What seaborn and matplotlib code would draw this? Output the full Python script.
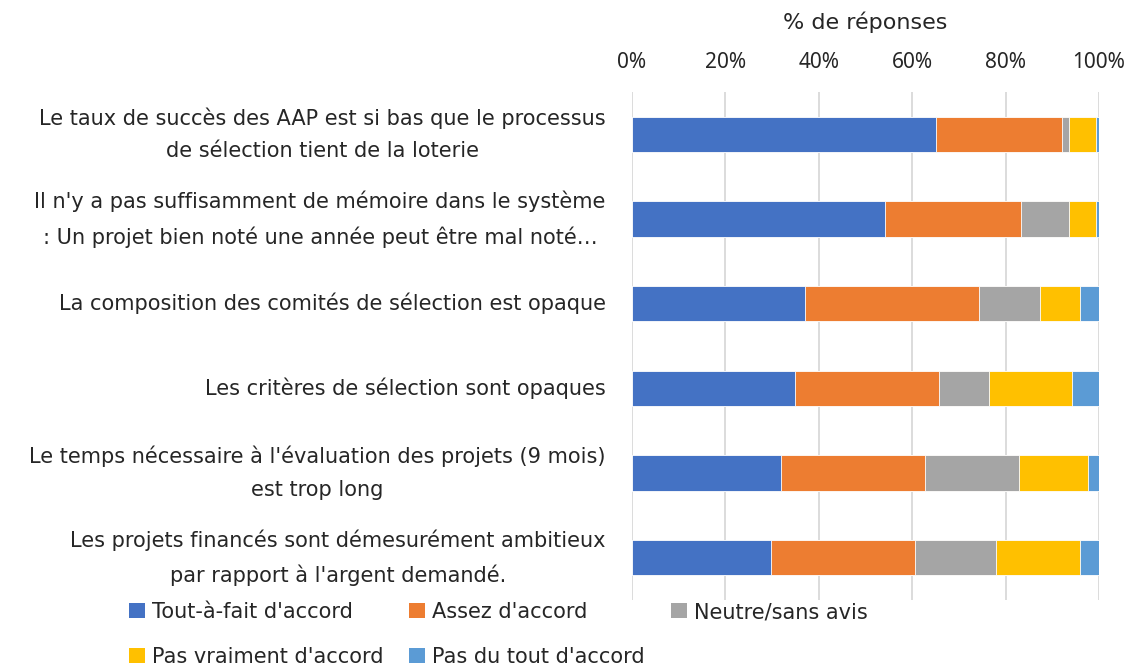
import matplotlib
matplotlib.use("Agg")
import matplotlib.pyplot as plt
from matplotlib.patches import Patch
import seaborn as sns
import pandas as pd
import numpy as np

categories = [
    "Le taux de succès des AAP est si bas que le processus\nde sélection tient de la loterie",
    "Il n'y a pas suffisamment de mémoire dans le système\n: Un projet bien noté une année peut être mal noté…",
    "La composition des comités de sélection est opaque",
    "Les critères de sélection sont opaques",
    "Le temps nécessaire à l'évaluation des projets (9 mois)\nest trop long",
    "Les projets financés sont démesurément ambitieux\npar rapport à l'argent demandé.",
]
series_names = ["Tout-à-fait d'accord", "Assez d'accord", "Neutre/sans avis",
                "Pas vraiment d'accord", "Pas du tout d'accord"]
tout_a_fait = [65.0, 54.1, 37.0, 34.9, 32.0, 29.7]
assez = [27.0, 29.2, 37.2, 30.8, 30.7, 30.9]
neutre = [1.5, 10.2, 13.1, 10.7, 20.1, 17.4]
pas_vraiment = [5.8, 5.8, 8.6, 17.8, 14.8, 17.9]
pas_du_tout = [0.7, 0.7, 4.1, 5.8, 2.4, 4.1]
tick_values = [0, 20, 40, 60, 80, 100]
tick_labels = ["0%", "20%", "40%", "60%", "80%", "100%"]

colors = ["#4472C4", "#ED7D31", "#A5A5A5", "#FFC000", "#5B9BD5"]
text_color = "#262626"
fs = 15
label_font = {"family": ["DejaVu Sans"], "size": 15}

sns.set_theme(style="white")
plt.rcParams["font.family"] = ["Noto Sans", "DejaVu Sans"]

df = pd.DataFrame({
    "cat": categories,
    series_names[0]: tout_a_fait,
    series_names[1]: assez,
    series_names[2]: neutre,
    series_names[3]: pas_vraiment,
    series_names[4]: pas_du_tout,
})
cum = df[series_names].cumsum(axis=1)

fig = plt.figure(figsize=(11.32, 6.72), dpi=100)
ax = fig.add_axes([632 / 1132, 1 - 600 / 672, (1099 - 632) / 1132, (600 - 92) / 672])

for i in range(len(series_names) - 1, -1, -1):
    sns.barplot(x=cum[series_names[i]], y=df["cat"], orient="h", color=colors[i],
                width=0.42, edgecolor="white", linewidth=0.6, saturation=1, ax=ax)

ax.set_xlim(0, 100)
ax.set_xticks(tick_values)
ax.set_xticklabels(tick_labels)
ax.xaxis.tick_top()
ax.xaxis.set_label_position("top")
ax.set_xlabel("% de réponses", fontdict={"family": ["DejaVu Sans"], "size": 16},
              color=text_color, labelpad=16)
ax.set_ylabel("")
ax.tick_params(axis="x", length=0, pad=14, labelsize=fs, labelcolor=text_color)
ax.tick_params(axis="y", length=0, pad=19, labelcolor=text_color)
for lab in ax.get_yticklabels():
    lab.set_fontfamily(label_font["family"])
    lab.set_fontsize(label_font["size"])
    lab.set_multialignment("center")
    lab.set_linespacing(1.8)
    lab.set_verticalalignment("center")
for x in tick_values:
    ax.axvline(x, color="#D9D9D9", lw=1.3, zorder=0)
ax.set_axisbelow(True)
for s in ax.spines.values():
    s.set_visible(False)

order = [0, 3, 1, 4, 2]
handles = [Patch(facecolor=colors[k], edgecolor="none") for k in order]
labels = [series_names[k] for k in order]
fig.legend(handles, labels, ncol=3, loc="upper left", bbox_to_anchor=(129 / 1132, 1 - 602 / 672),
           frameon=False, prop=label_font, handlelength=0.75, handleheight=0.75,
           handletextpad=0.35, columnspacing=1.25, labelspacing=1.2, borderaxespad=0,
           borderpad=0, labelcolor=text_color)

fig.savefig("out.png", dpi=100)
